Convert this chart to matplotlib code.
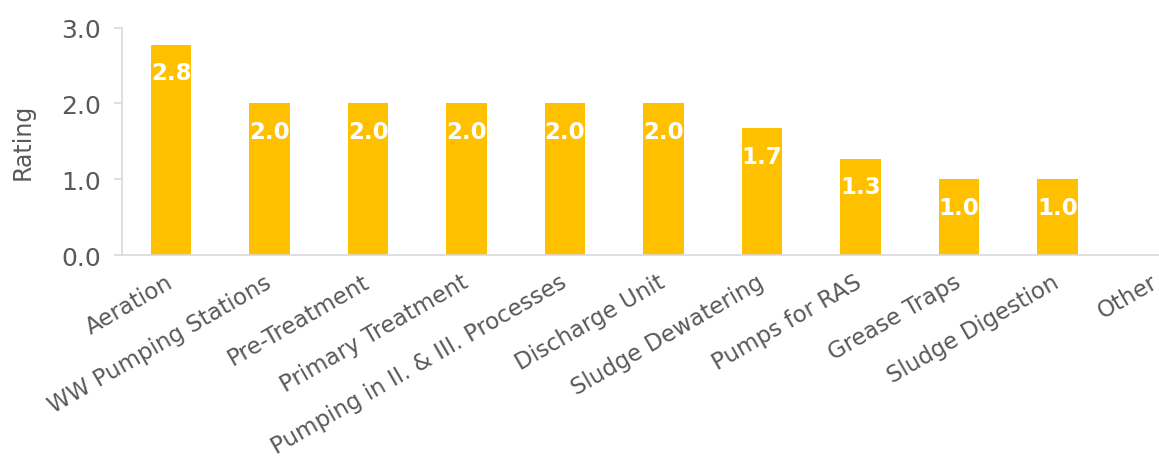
import matplotlib
matplotlib.use("Agg")
import matplotlib.pyplot as plt

categories = ["Aeration", "WW Pumping Stations", "Pre-Treatment", "Primary Treatment",
              "Pumping in II. & III. Processes", "Discharge Unit", "Sludge Dewatering",
              "Pumps for RAS", "Grease Traps", "Sludge Digestion", "Other"]
ratings = [2.77, 2.0, 2.0, 2.0, 2.0, 2.0, 1.67, 1.27, 1.0, 1.0, None]
yticks = [0.0, 1.0, 2.0, 3.0]

bar_color = "#FFC000"
text_gray = "#595959"
axis_gray = "#D9D9D9"

plt.rcParams['font.family'] = ['DejaVu Sans']

fig = plt.figure(figsize=(11.59, 4.64), dpi=100)
ax = fig.add_axes([122/1159, (464-256)/464, 1083/1159, 227.5/464])

xs = list(range(len(categories)))
vals = [v if v is not None else 0 for v in ratings]
bars = ax.bar(xs, vals, width=0.41, color=bar_color, zorder=2)

for x, v in zip(xs, ratings):
    if v is None:
        continue
    ax.annotate(f"{v:.1f}", xy=(x, v), xytext=(0, -28), textcoords="offset pixels",
                ha="center", va="center", color="white", fontsize=16.5, fontweight="bold")

ax.set_xlim(-0.5, len(categories) - 0.5)
ax.set_ylim(0, 3.0)
ax.set_yticks(yticks)
ax.set_yticklabels([f"{t:.1f}" for t in yticks], fontsize=18, color=text_gray)
ax.set_xticks(xs)
ax.set_xticklabels([])
for x, cat in zip(xs, categories):
    ax.annotate(cat, xy=(x, 0), xycoords=("data", "axes fraction"),
                xytext=(-6, -15), textcoords="offset pixels",
                rotation=30, ha="right", va="top", rotation_mode="anchor",
                fontsize=16.5, color=text_gray, annotation_clip=False)

ax.tick_params(axis="x", length=0)
ax.tick_params(axis="y", length=6, color=axis_gray, width=1.2, pad=9)

for s in ["top", "right"]:
    ax.spines[s].set_visible(False)
ax.spines["left"].set_color(axis_gray)
ax.spines["bottom"].set_color(axis_gray)
ax.spines["left"].set_linewidth(1.2)
ax.spines["bottom"].set_linewidth(1.2)

ax.set_ylabel("Rating", fontsize=17, color=text_gray)
ax.yaxis.set_label_coords(-0.081, 0.5)

fig.savefig("out.png", dpi=100)
